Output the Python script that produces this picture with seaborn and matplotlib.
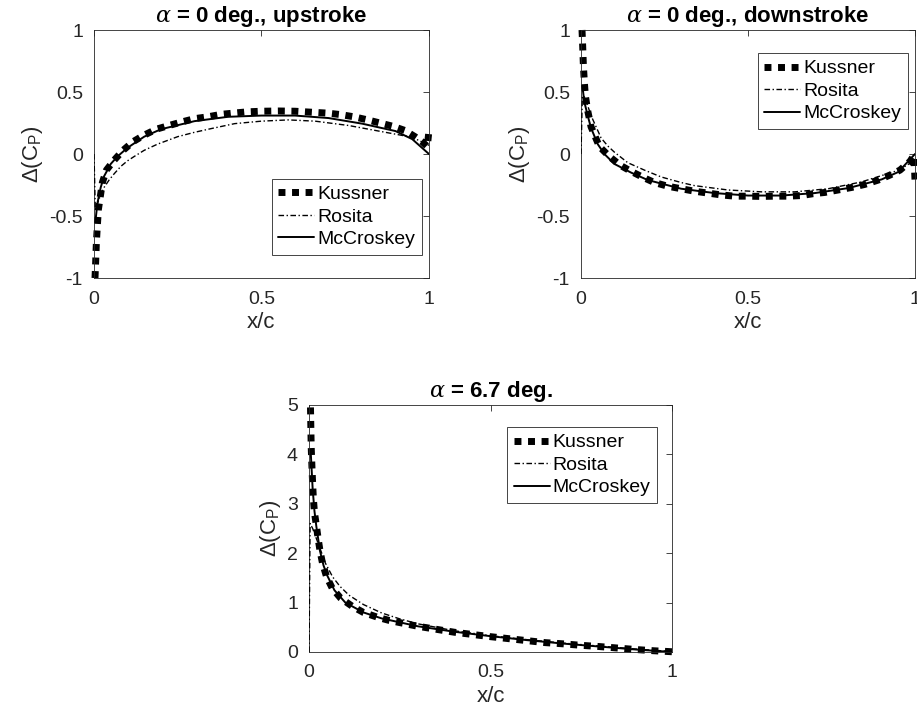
import numpy as np
import pandas as pd
import matplotlib
matplotlib.use("Agg")
import matplotlib.pyplot as plt
import seaborn as sns

# ---------------- data ----------------
# alpha = 0 deg., upstroke
up_kus_x = [0.003, 0.005, 0.007, 0.01, 0.013, 0.025, 0.037, 0.06, 0.087, 0.117, 0.148, 0.186, 0.224,
            0.264, 0.30, 0.34, 0.38, 0.417, 0.457, 0.50, 0.55, 0.60, 0.656, 0.696, 0.736, 0.776,
            0.814, 0.854, 0.893, 0.928, 0.958, 0.98, 0.995, 1.0]
up_kus_y = [-1.0, -0.87, -0.72, -0.58, -0.45, -0.23, -0.13, -0.05, 0.03, 0.10, 0.15, 0.20, 0.23,
            0.26, 0.285, 0.30, 0.32, 0.33, 0.34, 0.345, 0.347, 0.345, 0.336, 0.33, 0.318, 0.30,
            0.277, 0.25, 0.223, 0.19, 0.14, 0.098, 0.06, 0.19]
up_ros_x = [0.0, 0.004, 0.01, 0.02, 0.03, 0.045, 0.06, 0.08, 0.10, 0.12, 0.15, 0.19, 0.25, 0.30,
            0.35, 0.42, 0.50, 0.58, 0.66, 0.76, 0.86, 0.94, 0.97, 1.0]
up_ros_y = [0.0, -0.45, -0.40, -0.33, -0.27, -0.21, -0.16, -0.10, -0.055, -0.02, 0.03, 0.08, 0.14,
            0.175, 0.205, 0.245, 0.265, 0.275, 0.265, 0.23, 0.18, 0.14, 0.11, 0.07]
up_mcc_x = [0.004, 0.01, 0.02, 0.03, 0.05, 0.07, 0.10, 0.15, 0.20, 0.30, 0.40, 0.50, 0.60, 0.70,
            0.80, 0.90, 0.95, 1.0]
up_mcc_y = [-0.55, -0.40, -0.27, -0.18, -0.08, -0.02, 0.05, 0.14, 0.20, 0.265, 0.30, 0.31, 0.31,
            0.29, 0.245, 0.185, 0.12, 0.0]

# alpha = 0 deg., downstroke
dn_kus_x = [0.003, 0.005, 0.007, 0.01, 0.013, 0.02, 0.03, 0.055, 0.085, 0.117, 0.15, 0.187, 0.22,
            0.26, 0.30, 0.34, 0.38, 0.42, 0.46, 0.50, 0.54, 0.58, 0.62, 0.66, 0.695, 0.73, 0.77,
            0.81, 0.85, 0.89, 0.925, 0.955, 0.985, 0.997, 1.0]
dn_kus_y = [1.0, 0.87, 0.72, 0.58, 0.47, 0.35, 0.22, 0.06, -0.02, -0.09, -0.14, -0.19, -0.23,
            -0.26, -0.28, -0.30, -0.315, -0.33, -0.34, -0.34, -0.342, -0.34, -0.34, -0.335, -0.32,
            -0.31, -0.29, -0.27, -0.245, -0.21, -0.17, -0.13, -0.06, -0.01, -0.21]
dn_ros_x = [0.0, 0.004, 0.01, 0.02, 0.03, 0.045, 0.06, 0.08, 0.10, 0.14, 0.19, 0.24, 0.30, 0.34,
            0.44, 0.54, 0.64, 0.74, 0.84, 0.94, 0.97, 1.0]
dn_ros_y = [0.0, 0.47, 0.46, 0.39, 0.31, 0.22, 0.13, 0.065, 0.015, -0.07, -0.13, -0.185, -0.23, -0.255,
            -0.29, -0.305, -0.305, -0.28, -0.225, -0.14, -0.10, -0.05]
dn_mcc_x = [0.004, 0.01, 0.02, 0.03, 0.05, 0.07, 0.10, 0.15, 0.20, 0.30, 0.40, 0.50, 0.60, 0.70,
            0.80, 0.90, 0.95, 1.0]
dn_mcc_y = [0.55, 0.42, 0.31, 0.21, 0.08, 0.0, -0.08, -0.15, -0.21, -0.28, -0.315, -0.335, -0.335,
            -0.315, -0.275, -0.205, -0.145, 0.0]

# alpha = 6.7 deg.
a67_kus_x = [0.004, 0.005, 0.006, 0.008, 0.01, 0.012, 0.015, 0.02, 0.025, 0.03, 0.037, 0.048, 0.064,
             0.087, 0.12, 0.15, 0.19, 0.22, 0.26, 0.30, 0.35, 0.40, 0.45, 0.50, 0.55, 0.60, 0.65,
             0.70, 0.75, 0.80, 0.85, 0.90, 0.95, 1.0]
a67_kus_y = [4.95, 4.55, 4.15, 3.75, 3.40, 3.10, 2.82, 2.57, 2.30, 2.06, 1.80, 1.53, 1.29,
             1.09, 0.92, 0.80, 0.70, 0.64, 0.58, 0.52, 0.46, 0.40, 0.355, 0.31, 0.27, 0.23, 0.19,
             0.165, 0.135, 0.11, 0.08, 0.05, 0.025, 0.005]
a67_ros_x = [0.0, 0.003, 0.01, 0.02, 0.03, 0.045, 0.065, 0.085, 0.11, 0.15, 0.20, 0.25, 0.30, 0.40,
             0.50, 0.60, 0.70, 0.80, 0.90, 1.0]
a67_ros_y = [0.0, 2.60, 2.50, 2.30, 2.10, 1.80, 1.52, 1.33, 1.15, 0.96, 0.79, 0.67, 0.57, 0.43,
             0.33, 0.25, 0.18, 0.12, 0.06, 0.01]
a67_mcc_x = [0.005, 0.01, 0.015, 0.02, 0.03, 0.04, 0.05, 0.07, 0.10, 0.15, 0.20, 0.30, 0.40, 0.50,
             0.60, 0.70, 0.80, 0.90, 1.0]
a67_mcc_y = [4.0, 3.3, 2.85, 2.55, 2.05, 1.75, 1.55, 1.25, 1.0, 0.80, 0.68, 0.52, 0.41, 0.32,
             0.24, 0.17, 0.11, 0.05, 0.0]

series_names = ["Kussner", "Rosita", "McCroskey"]
titles = [r"$\alpha$ = 0 deg., upstroke", r"$\alpha$ = 0 deg., downstroke", r"$\alpha$ = 6.7 deg."]
xticks = [0, 0.5, 1]
xtick_labels = ["0", "0.5", "1"]
yticks_small = [-1, -0.5, 0, 0.5, 1]
ytick_labels_small = ["-1", "-0.5", "0", "0.5", "1"]
yticks_big = [0, 1, 2, 3, 4, 5]
ytick_labels_big = ["0", "1", "2", "3", "4", "5"]

# ---------------- style ----------------
sns.set_theme(style="white")
plt.rcParams["font.family"] = ["Liberation Sans", "DejaVu Sans"]
plt.rcParams["mathtext.fontset"] = "custom"
plt.rcParams["mathtext.rm"] = "Liberation Sans"
plt.rcParams["mathtext.it"] = "DejaVu Serif:italic"
plt.rcParams["mathtext.bf"] = "Liberation Sans:bold"
plt.rcParams["axes.unicode_minus"] = False

AX_COL = "#262626"

fig = plt.figure(figsize=(9.17, 7.16), dpi=100)
ax1 = fig.add_axes([0.1025, 0.6117, 0.3653, 0.3464])
ax2 = fig.add_axes([0.6336, 0.6117, 0.3642, 0.3464])
ax3 = fig.add_axes([0.337, 0.0894, 0.3959, 0.345])

panels = [
    (ax1, (up_kus_x, up_kus_y), (up_ros_x, up_ros_y), (up_mcc_x, up_mcc_y), titles[0],
     yticks_small, ytick_labels_small, (-1, 1), dict(loc="lower right", bbox_to_anchor=(0.979, 0.093))),
    (ax2, (dn_kus_x, dn_kus_y), (dn_ros_x, dn_ros_y), (dn_mcc_x, dn_mcc_y), titles[1],
     yticks_small, ytick_labels_small, (-1, 1), dict(loc="upper right", bbox_to_anchor=(0.979, 0.907))),
    (ax3, (a67_kus_x, a67_kus_y), (a67_ros_x, a67_ros_y), (a67_mcc_x, a67_mcc_y), titles[2],
     yticks_big, ytick_labels_big, (0, 5), dict(loc="upper right", bbox_to_anchor=(0.959, 0.911))),
]

for ax, kus, ros, mcc, title, yt, ytl, ylim, legkw in panels:
    df_k = pd.DataFrame({"x": kus[0], "y": kus[1]})
    df_r = pd.DataFrame({"x": ros[0], "y": ros[1]})
    df_m = pd.DataFrame({"x": mcc[0], "y": mcc[1]})
    sns.lineplot(data=df_k, x="x", y="y", ax=ax, color="black", linewidth=5,
                 linestyle=(0, (1, 0.95)), dash_capstyle="butt", estimator=None, sort=False,
                 label=series_names[0], clip_on=False, zorder=2)
    sns.lineplot(data=df_r, x="x", y="y", ax=ax, color="black", linewidth=1.0,
                 linestyle=(0, (4, 1.8, 1, 1.8)), estimator=None, sort=False,
                 label=series_names[1], zorder=3)
    sns.lineplot(data=df_m, x="x", y="y", ax=ax, color="black", linewidth=1.4,
                 linestyle="-", estimator=None, sort=False,
                 label=series_names[2], zorder=4)

    ax.set_xlim(0, 1)
    ax.set_ylim(*ylim)
    ax.set_xticks(xticks)
    ax.set_xticklabels(xtick_labels)
    ax.set_yticks(yt)
    ax.set_yticklabels(ytl)
    ax.tick_params(direction="in", top=True, right=True, length=4, width=0.6,
                   color=AX_COL, labelcolor=AX_COL, labelsize=14)
    ax.tick_params(axis="x", pad=9)
    ax.tick_params(axis="y", pad=8)
    for sp in ax.spines.values():
        sp.set_visible(True)
        sp.set_color(AX_COL)
        sp.set_linewidth(0.6)
    ax.set_xlabel("x/c", fontsize=16, color=AX_COL, labelpad=3)
    ax.set_ylabel(r"$\Delta$(C$_\mathrm{P}$)", fontsize=16, color=AX_COL, labelpad=3)
    ax.set_title(title, fontsize=16, fontweight="bold", color="black", pad=6)
    leg = ax.legend(fontsize=14, frameon=True, fancybox=False, framealpha=1,
                    edgecolor=AX_COL, handlelength=1.85, handletextpad=0.15,
                    borderpad=0.35, labelspacing=0.25, borderaxespad=0.0, **legkw)
    leg.get_frame().set_linewidth(0.6)
    for t in leg.get_texts():
        t.set_color("black")

fig.savefig("out.png", dpi=100, facecolor="white")
